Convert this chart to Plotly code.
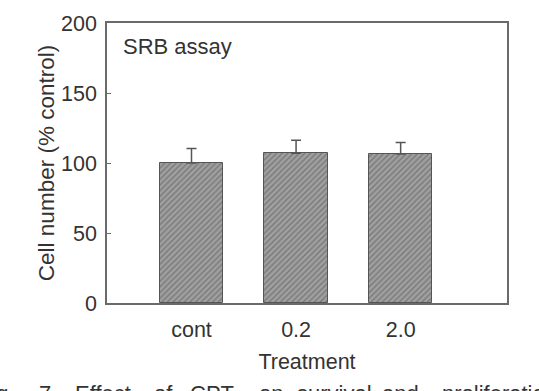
import plotly.graph_objects as go

categories = ["cont", "0.2", "2.0"]
values = [100, 107, 106.4]
errors = [10.3, 9.3, 8.3]
y_ticks = [0, 50, 100, 150, 200]

caption_words = ["Fig.", "7.", "Effect", "of", "CPT", "on", "survival", "and", "proliferation"]
caption_left_px = [-24, 37, 73, 152, 188, 257, 295, 380, 440]

FONT = "Liberation Sans, Arial, sans-serif"
TXT = "#333333"
AX = "#6a6a6a"

W, H = 539, 391
ML, MR, MT, MB = 107, 32, 15, 88
PW, PH = W - ML - MR, H - MT - MB

fig = go.Figure()
fig.add_trace(go.Bar(
    x=list(range(len(categories))),
    y=values,
    width=0.607,
    marker=dict(
        color="#9a9a9a",
        line=dict(color="#555555", width=1),
        pattern=dict(shape="/", fgcolor="#505050", bgcolor="#a0a0a0", size=4, solidity=0.35),
    ),
    error_y=dict(type="data", symmetric=False, array=errors, arrayminus=[0] * len(errors),
                 color="#555555", thickness=1.5, width=5),
    showlegend=False,
))

fig.update_layout(
    width=W, height=H,
    margin=dict(l=ML, r=MR, t=MT, b=MB),
    paper_bgcolor="white", plot_bgcolor="white",
    font=dict(family=FONT, color=TXT, size=21),
    bargap=0,
)
fig.update_xaxes(
    range=[-0.808, 3.017],
    tickmode="array", tickvals=list(range(len(categories))), ticktext=categories,
    ticks="", showgrid=False, zeroline=False,
    showline=True, linecolor=AX, linewidth=1.5, mirror=True,
    tickfont=dict(size=21.5, color=TXT, family=FONT),
    ticklabelstandoff=6,
    title=dict(text="Treatment", font=dict(size=21.5, color=TXT, family=FONT), standoff=13),
)
fig.update_yaxes(
    range=[0, 200],
    tickmode="array", tickvals=y_ticks,
    ticks="inside", ticklen=4, tickcolor=AX, tickwidth=1,
    showgrid=False, zeroline=False,
    showline=True, linecolor=AX, linewidth=1.5, mirror=True,
    tickfont=dict(size=21.5, color=TXT, family=FONT),
    ticklabelstandoff=4,
    title=dict(text="Cell number (% control)", font=dict(size=22.5, color=TXT, family=FONT), standoff=0),
)
fig.add_annotation(
    text="SRB assay", xref="paper", yref="paper", x=0.035, y=0.917,
    xanchor="left", yanchor="middle", showarrow=False,
    font=dict(size=22, color=TXT, family=FONT),
)
cap_top_px = 381.5
for word, px in zip(caption_words, caption_left_px):
    fig.add_annotation(
        text=word, xref="paper", yref="paper",
        x=(px - ML) / PW, y=-(cap_top_px - (MT + PH)) / PH,
        xanchor="left", yanchor="top", showarrow=False,
        font=dict(size=22, color=TXT, family=FONT),
    )
fig.write_html("out.html")
